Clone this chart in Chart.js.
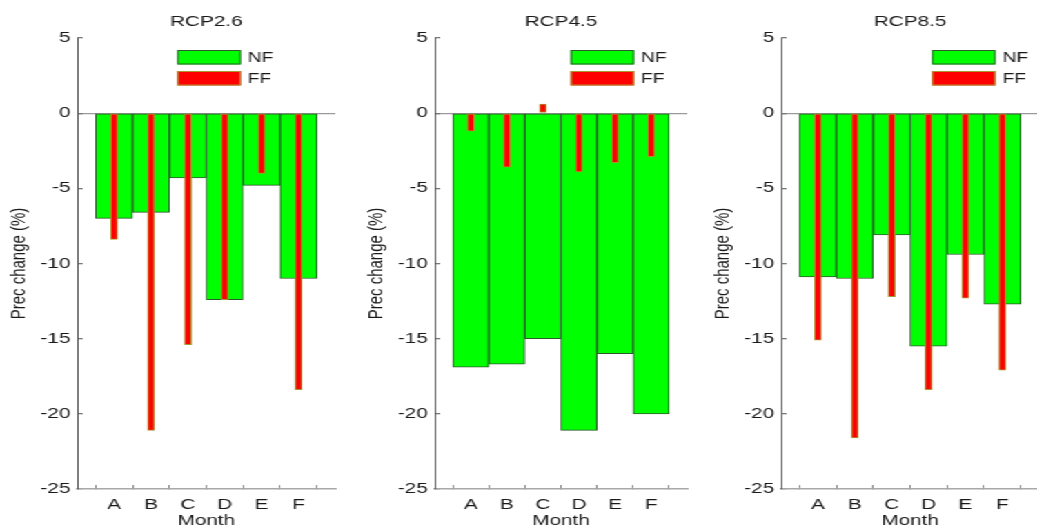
<!DOCTYPE html>
<html><head><meta charset="utf-8">
<script src="https://cdn.jsdelivr.net/npm/chart.js@4/dist/chart.umd.min.js"></script>
<style>
html,body{margin:0;padding:0;background:#fff;overflow:hidden;width:1037px;height:530px;}
#wrap{position:absolute;left:0;top:0;width:770px;height:530px;transform:scaleX(1.38);transform-origin:0 0;}
canvas{position:absolute;top:0;}
</style></head><body>
<div id="wrap">
<canvas id="c1" width="254" height="530" style="left:0px"></canvas>
<canvas id="c2" width="250" height="530" style="left:258.5px"></canvas>
<canvas id="c3" width="254" height="530" style="left:510px"></canvas>
</div>
<script>
// ---- data ----
const categories = ['A','B','C','D','E','F'];
const scenarioTitles = ['RCP2.6','RCP4.5','RCP8.5'];
const seriesNames = ['NF','FF'];
const nfRcp26 = [-7.0,-6.6,-4.3,-12.4,-4.8,-11.0];
const ffRcp26 = [-8.4,-21.1,-15.4,-12.4,-4.0,-18.4];
const nfRcp45 = [-16.9,-16.7,-15.0,-21.1,-16.0,-20.0];
const ffRcp45 = [-1.2,-3.6,0.6,-3.9,-3.3,-2.9];
const nfRcp85 = [-10.9,-11.0,-8.1,-15.5,-9.4,-12.7];
const ffRcp85 = [-15.1,-21.6,-12.2,-18.4,-12.3,-17.1];
const yTicks = [-25,-20,-15,-10,-5,0,5];
const yAxisLabel = 'Prec change (%)';
const xAxisLabel = 'Month';

Chart.defaults.font.family = "'Liberation Sans', Arial, sans-serif";
const TXT = '#1a1a1a';

// one empty slot at each end of the month axis
const paddedLabels = [''].concat(categories, ['']);
const pad = arr => [null].concat(arr, [null]);

const boxLegend = {
  id: 'boxLegend',
  afterDatasetsDraw(chart, args, o) {
    const ctx = chart.ctx;
    const x = chart.chartArea.left + o.x;
    ctx.save();
    chart.data.datasets.forEach((ds, i) => {
      const y = o.top + i * o.rowGap;
      ctx.fillStyle = ds.backgroundColor;
      ctx.fillRect(x, y, o.w, o.h);
      ctx.strokeStyle = ds.borderColor;
      ctx.lineWidth = 1;
      ctx.strokeRect(x + 0.5, y + 0.5, o.w - 1, o.h - 1);
      ctx.fillStyle = TXT;
      ctx.font = "14px 'Liberation Sans', Arial, sans-serif";
      ctx.textBaseline = 'middle';
      ctx.textAlign = 'left';
      ctx.fillText(ds.label, x + o.w + 5, y + o.h / 2 + 0.5);
    });
    ctx.restore();
  }
};

function makeChart(id, title, nf, ff, legendX, padRight) {
  return new Chart(document.getElementById(id), {
    type: 'bar',
    data: {
      labels: paddedLabels,
      datasets: [
        {label: seriesNames[0], data: pad(nf), backgroundColor: '#00ff00', borderColor: '#2c5a2c',
         borderWidth: 1, borderSkipped: false, barPercentage: 1, categoryPercentage: 1, grouped: false, order: 1},
        {label: seriesNames[1], data: pad(ff), backgroundColor: '#ff0000', borderColor: '#a8962e',
         borderWidth: 1, borderSkipped: false, barThickness: 5, grouped: false, order: 0}
      ]
    },
    options: {
      responsive: false, animation: false, devicePixelRatio: 1,
      layout: {padding: {left: 0, right: padRight, top: 0, bottom: 0}},
      plugins: {
        legend: {display: false},
        tooltip: {enabled: false},
        title: {display: true, text: title, fullSize: false, color: TXT,
                font: {size: 15, weight: 'normal'}, padding: {top: 12.5, bottom: 7.5}},
        boxLegend: {x: legendX, top: 50, rowGap: 21, w: 46, h: 14.5}
      },
      scales: {
        x: {
          type: 'category', offset: false,
          grid: {display: true, drawOnChartArea: false, drawTicks: true, tickLength: -4, color: '#8a8a8a', tickColor: '#8a8a8a'},
          border: {display: true, color: '#a8a8a8', width: 1.5},
          ticks: {color: TXT, font: {size: 15}, padding: 11, autoSkip: false, maxRotation: 0},
          title: {display: true, text: xAxisLabel, color: TXT, font: {size: 15}, padding: {top: 0, bottom: 0}},
          afterFit(s) { s.height = 41; }
        },
        y: {
          min: -25, max: 5,
          afterBuildTicks(s) { s.ticks = yTicks.map(v => ({value: v})); },
          grid: {color: c => (c.tick && c.tick.value === 0) ? '#9a9a9a' : 'rgba(0,0,0,0)',
                 lineWidth: 1.3, drawTicks: true, tickLength: -4, tickColor: '#7a7a7a'},
          border: {display: true, color: '#555', width: 1},
          ticks: {color: TXT, font: {size: 15}, padding: 9},
          title: {display: true, text: yAxisLabel, color: TXT, font: {size: 15}, padding: {top: 5, bottom: 0}},
          afterFit(s) { s.width = 56; }
        }
      }
    },
    plugins: [boxLegend]
  });
}

makeChart('c1', scenarioTitles[0], nfRcp26, ffRcp26, 72.5, 4);
makeChart('c2', scenarioTitles[1], nfRcp45, ffRcp45, 98.5, 4.3);
makeChart('c3', scenarioTitles[2], nfRcp85, ffRcp85, 109.4, 4);
</script>
</body></html>
